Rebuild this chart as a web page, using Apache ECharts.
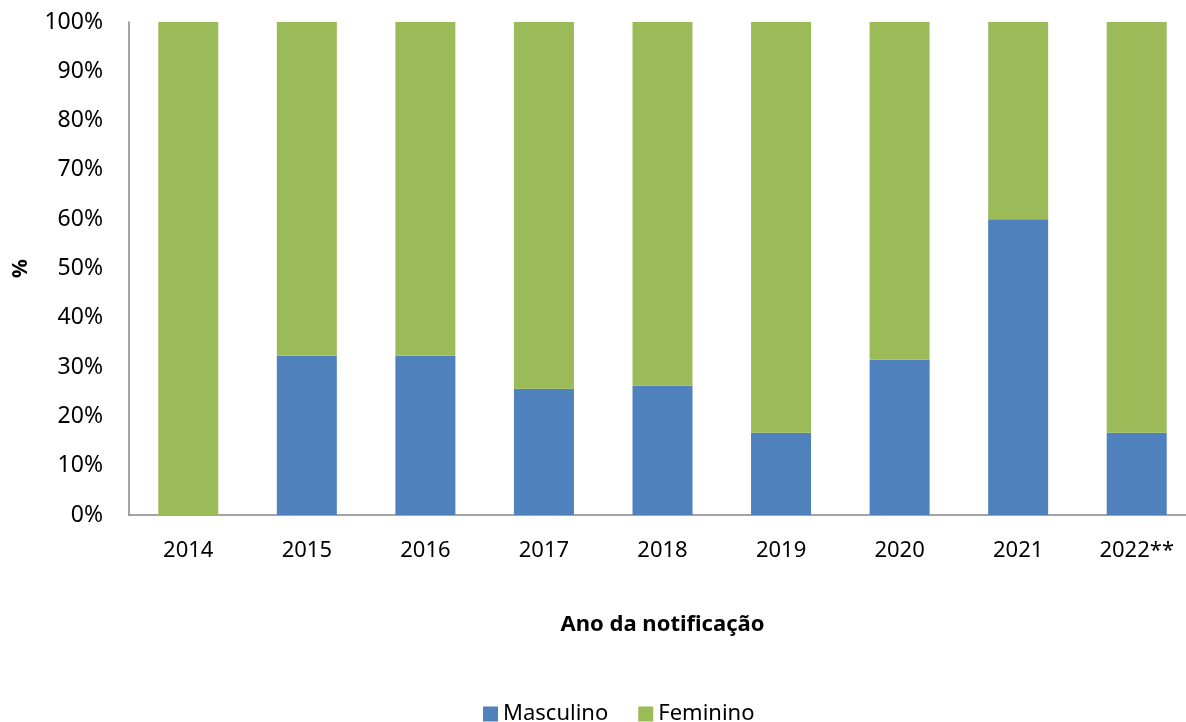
<!DOCTYPE html>
<html>
<head>
<meta charset="utf-8">
<script src="https://cdn.jsdelivr.net/npm/echarts@6/dist/echarts.min.js"></script>
<style>
  html, body { margin: 0; padding: 0; background: #fff; }
  #main { width: 1186px; height: 722px; }
</style>
</head>
<body>
<div id="main"></div>
<script>
// anos e percentuais por sexo
var anos = ['2014', '2015', '2016', '2017', '2018', '2019', '2020', '2021', '2022**'];
var masculino = [0, 32.3, 32.3, 25.6, 26.2, 16.7, 31.5, 60, 16.7];
var feminino = [100, 67.7, 67.7, 74.4, 73.8, 83.3, 68.5, 40, 83.3];

var fonte = '"Noto Sans", sans-serif';
var eixoCor = '#868686';

echarts.init(document.getElementById('main')).setOption({
  animation: false,
  textStyle: { fontFamily: fonte },
  grid: { left: 129, top: 22, width: 1067, height: 493, outerBoundsMode: 'none', containLabel: false },
  legend: {
    left: 478,
    top: 698,
    itemWidth: 15,
    itemHeight: 15,
    itemGap: 30,
    icon: 'rect',
    textStyle: { fontSize: 22, color: '#000', fontFamily: fonte },
    data: ['Masculino', 'Feminino']
  },
  xAxis: {
    type: 'category',
    data: anos,
    name: 'Ano da notificação',
    nameLocation: 'middle',
    nameGap: 99,
    nameTextStyle: { fontSize: 22, fontWeight: 'bold', color: '#000', fontFamily: fonte },
    axisLine: { lineStyle: { color: eixoCor, width: 1.5 } },
    axisTick: { show: false },
    axisLabel: { fontSize: 22, color: '#000', margin: 25 }
  },
  yAxis: {
    type: 'value',
    min: 0,
    max: 100,
    interval: 10,
    name: '%',
    nameLocation: 'middle',
    nameGap: 97,
    nameRotate: 90,
    nameTextStyle: { fontSize: 21, fontWeight: 'bold', color: '#000', fontFamily: fonte },
    axisLine: { show: true, lineStyle: { color: eixoCor, width: 1.5 } },
    axisTick: { show: false },
    splitLine: { show: false },
    axisLabel: { fontSize: 23, color: '#000', margin: 26, formatter: '{value}%' }
  },
  series: [
    {
      name: 'Masculino',
      type: 'bar',
      stack: 'total',
      barWidth: 60,
      itemStyle: { color: '#4F81BD' },
      data: masculino
    },
    {
      name: 'Feminino',
      type: 'bar',
      stack: 'total',
      barWidth: 60,
      itemStyle: { color: '#9BBB59' },
      data: feminino
    }
  ]
});
</script>
</body>
</html>
